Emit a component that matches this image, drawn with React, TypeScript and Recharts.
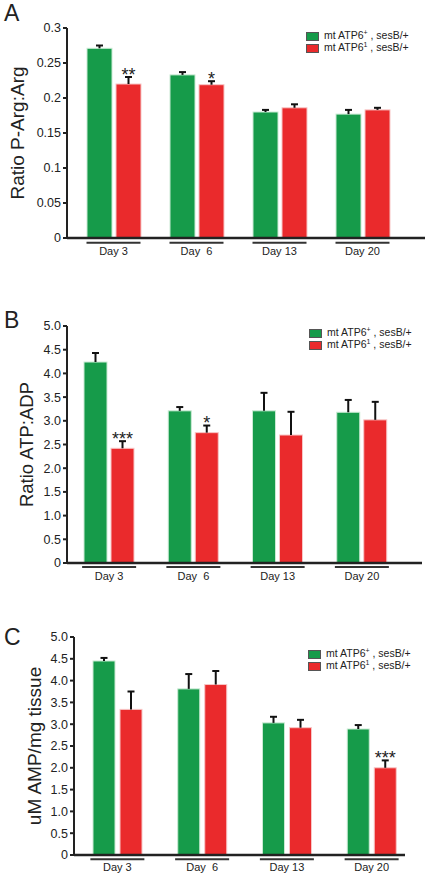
import React from 'react'
import { BarChart, Bar, XAxis, YAxis } from 'recharts'

const days = ['Day 3', 'Day  6', 'Day 13', 'Day 20']

// panel A: P-Arg:Arg
const argGreen = [0.271, 0.233, 0.18, 0.177]
const argGreenErr = [0.004, 0.004, 0.003, 0.006]
const argRed = [0.22, 0.219, 0.186, 0.183]
const argRedErr = [0.01, 0.005, 0.005, 0.003]
const argSig = ['**', '*', '', '']
const argTicks = [0, 0.05, 0.1, 0.15, 0.2, 0.25, 0.3]

// panel B: ATP:ADP
const atpGreen = [4.24, 3.21, 3.21, 3.18]
const atpGreenErr = [0.19, 0.08, 0.38, 0.26]
const atpRed = [2.42, 2.75, 2.7, 3.02]
const atpRedErr = [0.15, 0.15, 0.49, 0.38]
const atpSig = ['***', '*', '', '']

// panel C: AMP
const ampGreen = [4.45, 3.81, 3.03, 2.89]
const ampGreenErr = [0.07, 0.34, 0.14, 0.09]
const ampRed = [3.34, 3.91, 2.92, 2.0]
const ampRedErr = [0.41, 0.31, 0.18, 0.17]
const ampSig = ['', '', '', '***']

const fiveTicks = [0, 0.5, 1, 1.5, 2, 2.5, 3, 3.5, 4, 4.5, 5]

const GREEN = '#169b4a'
const RED = '#ea2a2c'
const INK = '#222'

const build = (g: number[], ge: number[], r: number[], re: number[], sig: string[]) =>
  days.map((day, i) => ({ day, green: g[i], greenErr: ge[i], red: r[i], redErr: re[i], sig: sig[i] }))

const makeShape = (fill: string, edge: string, key: string, errKey: string, withSig: boolean) => (props: any) => {
  const { x, y, width, height, payload } = props
  const v = payload[key]
  const errPx = v ? (payload[errKey] * height) / v : 0
  const cx = x + width / 2
  const top = y - errPx
  return (
    <g>
      <rect x={x} y={y} width={width} height={height} fill={fill} stroke={edge} strokeWidth={1} />
      <line x1={cx} y1={y} x2={cx} y2={top} stroke="#111" strokeWidth={2} />
      <line x1={cx - 3.5} y1={top} x2={cx + 3.5} y2={top} stroke="#111" strokeWidth={2} />
      {withSig && payload.sig ? (
        <text x={cx} y={top + 3.5} textAnchor="middle" fontSize={18} fill={INK}>
          {payload.sig}
        </text>
      ) : null}
    </g>
  )
}

const DayTick = (props: any) => {
  const { x, y, payload, lineDy, textDy } = props
  return (
    <g>
      <line x1={x - 27} y1={y + lineDy} x2={x + 27} y2={y + lineDy} stroke="#333" strokeWidth={2} />
      <text x={x} y={y + textDy} textAnchor="middle" fontSize={11} fill={INK} style={{ whiteSpace: 'pre' }}>
        {payload.value}
      </text>
    </g>
  )
}

const YLabel = (props: any) => {
  const { viewBox, text, lx, size } = props
  const cy = viewBox ? viewBox.y + viewBox.height / 2 : 0
  return (
    <text
      x={lx}
      y={cy}
      transform={`rotate(-90, ${lx}, ${cy})`}
      textAnchor="middle"
      fontSize={size}
      fill={INK}
    >
      {text}
    </text>
  )
}

const LegendBox = ({ left, top }: { left: number; top: number }) => {
  const row = (color: string, sup: string) => (
    <div style={{ display: 'flex', alignItems: 'center', height: 12 }}>
      <span style={{ width: 13, height: 9, background: color, border: '1px solid #555', boxSizing: 'border-box', marginRight: 5 }} />
      <span style={{ fontSize: 10.5, color: INK, whiteSpace: 'pre', lineHeight: '12px' }}>
        mt ATP6<span style={{ fontSize: 7, position: 'relative', top: -4 }}>{sup}</span> , sesB/+
      </span>
    </div>
  )
  return (
    <div style={{ position: 'absolute', left, top }}>
      {row(GREEN, '+')}
      {row(RED, '1')}
    </div>
  )
}

interface PanelProps {
  letter: string
  letterTop: number
  top: number
  height: number
  margin: { top: number; right: number; bottom: number; left: number }
  yWidth: number
  xHeight: number
  pad: { left: number; right: number }
  domain: [number, number]
  ticks: number[]
  fmt: (v: number) => string
  data: any[]
  barSize: number
  barGap: number
  yLabel: string
  labelX: number
  labelSize: number
  legendPos: { left: number; top: number }
  lineDy: number
  textDy: number
}

function Panel(p: PanelProps) {
  return (
    <div style={{ position: 'absolute', left: 0, top: p.top, width: 429, height: p.height }}>
      <div style={{ position: 'absolute', left: 4, top: p.letterTop, fontSize: 23, lineHeight: '23px', color: INK }}>
        {p.letter}
      </div>
      <BarChart width={429} height={p.height} data={p.data} margin={p.margin} barGap={p.barGap}>
        <XAxis
          dataKey="day"
          height={p.xHeight}
          padding={p.pad}
          axisLine={{ stroke: INK, strokeWidth: 2.5 }}
          tickLine={false}
          tickSize={0}
          tickMargin={0}
          interval={0}
          tick={<DayTick lineDy={p.lineDy} textDy={p.textDy} />}
        />
        <YAxis
          width={p.yWidth}
          domain={p.domain}
          ticks={p.ticks}
          interval={0}
          tickFormatter={p.fmt}
          axisLine={{ stroke: INK, strokeWidth: 2 }}
          tickLine={{ stroke: INK, strokeWidth: 2 }}
          tickSize={4}
          tickMargin={2}
          tick={{ fontSize: 12.5, fill: INK }}
          label={<YLabel text={p.yLabel} lx={p.labelX} size={p.labelSize} />}
        />
        <Bar dataKey="green" barSize={p.barSize} isAnimationActive={false} shape={makeShape(GREEN, '#c9ead3', 'green', 'greenErr', false)} />
        <Bar dataKey="red" barSize={p.barSize} isAnimationActive={false} shape={makeShape(RED, '#f8c6c6', 'red', 'redErr', true)} />
      </BarChart>
      <LegendBox left={p.legendPos.left} top={p.legendPos.top} />
    </div>
  )
}

const fmtA = (v: number) => (v === 0 ? '0' : String(v))
const fmtB = (v: number) => (v === 0 ? '0' : v.toFixed(1))

export default function App() {
  return (
    <div style={{ position: 'absolute', left: 0, top: 0, width: 429, height: 874, background: '#fff', fontFamily: '"Liberation Sans", Arial, sans-serif' }}>
      <Panel
        letter="A"
        letterTop={2}
        top={0}
        height={290}
        margin={{ top: 28, right: 4, bottom: 12, left: 0 }}
        yWidth={67}
        xHeight={40}
        pad={{ left: 5, right: 21 }}
        domain={[0, 0.3]}
        ticks={argTicks}
        fmt={fmtA}
        data={build(argGreen, argGreenErr, argRed, argRedErr, argSig)}
        barSize={25}
        barGap={4}
        yLabel="Ratio P-Arg:Arg"
        labelX={24}
        labelSize={19}
        legendPos={{ left: 306, top: 30 }}
        lineDy={4.7}
        textDy={17}
      />
      <Panel
        letter="B"
        letterTop={19}
        top={290}
        height={300}
        margin={{ top: 36, right: 7, bottom: 0, left: 0 }}
        yWidth={67}
        xHeight={27}
        pad={{ left: 0, right: 18 }}
        domain={[0, 5]}
        ticks={fiveTicks}
        fmt={fmtB}
        data={build(atpGreen, atpGreenErr, atpRed, atpRedErr, atpSig)}
        barSize={23}
        barGap={4}
        yLabel="Ratio ATP:ADP"
        labelX={33}
        labelSize={18.5}
        legendPos={{ left: 309, top: 37 }}
        lineDy={4}
        textDy={17}
      />
      <Panel
        letter="C"
        letterTop={46}
        top={580}
        height={294}
        margin={{ top: 57, right: 24, bottom: 0, left: 0 }}
        yWidth={74}
        xHeight={19}
        pad={{ left: 1, right: -9 }}
        domain={[0, 5]}
        ticks={fiveTicks}
        fmt={fmtB}
        data={build(ampGreen, ampGreenErr, ampRed, ampRedErr, ampSig)}
        barSize={22}
        barGap={5}
        yLabel="uM AMP/mg tissue"
        labelX={41}
        labelSize={19}
        legendPos={{ left: 308, top: 68 }}
        lineDy={4.3}
        textDy={16}
      />
    </div>
  )
}
